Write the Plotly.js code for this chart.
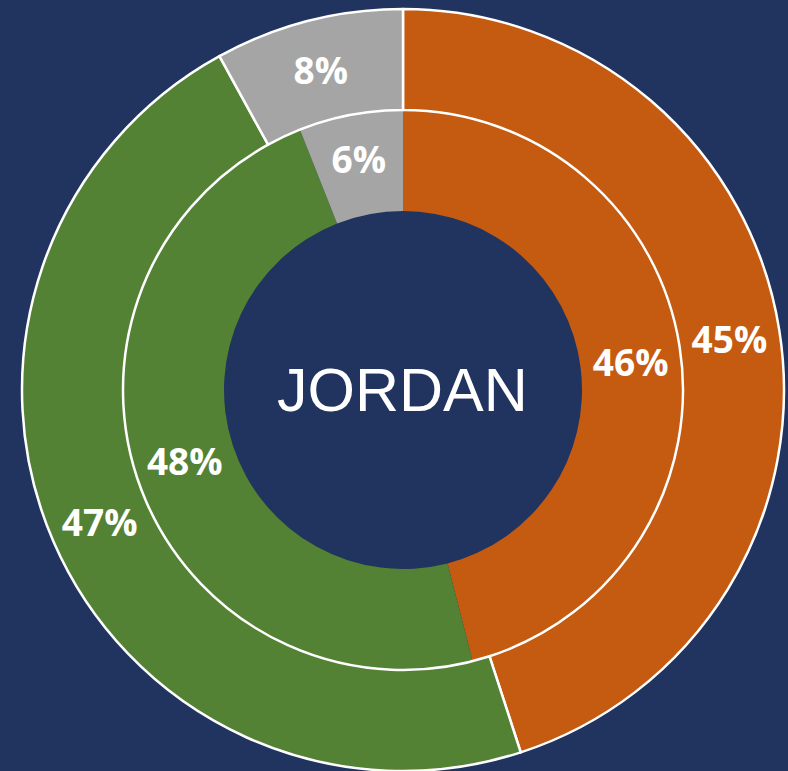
<!DOCTYPE html>
<html>
<head>
<meta charset="utf-8">
<script src="https://cdn.plot.ly/plotly-3.0.1.min.js"></script>
<style>
html,body{margin:0;padding:0;background:#21345F;}
#chart{width:788px;height:771px;}
</style>
</head>
<body>
<div id="chart"></div>
<script>
const categories = ["Orange", "Green", "Gray"];
const outerValues = [45, 47, 8];
const innerValues = [46, 48, 6];
const centerLabel = "JORDAN";
const colors = ["#C55A11", "#548235", "#A5A5A5"];

const W = 788, H = 771;
const cx = 403, cy = 390;
const rOuter = 381, rMid = 280, rHole = 179;

function dom(r) {
  return {
    x: [(cx - r) / W, (cx + r) / W],
    y: [Math.max(0, (H - cy - r) / H), Math.min(1, (H - cy + r) / H)]
  };
}

const textFont = {family: "Open Sans", size: 37, color: "#FFFFFF", weight: 700};

const outer = {
  type: "pie",
  labels: categories,
  values: outerValues,
  sort: false,
  direction: "clockwise",
  rotation: 0,
  hole: rMid / rOuter,
  domain: dom(rOuter),
  marker: {colors: colors, line: {color: "#FFFFFF", width: 2.5}},
  texttemplate: "%{value}%",
  textposition: "inside",
  insidetextorientation: "horizontal",
  insidetextfont: textFont,
  hoverinfo: "none",
  showlegend: false
};

const inner = {
  type: "pie",
  labels: categories,
  values: innerValues,
  sort: false,
  direction: "clockwise",
  rotation: 0,
  hole: rHole / rMid,
  domain: dom(rMid),
  marker: {colors: colors, line: {color: "#FFFFFF", width: 0}},
  texttemplate: "%{value}%",
  textposition: "inside",
  insidetextorientation: "horizontal",
  insidetextfont: textFont,
  hoverinfo: "none",
  showlegend: false
};

const layout = {
  width: W,
  height: H,
  margin: {l: 0, r: 0, t: 0, b: 0},
  paper_bgcolor: "#21345F",
  plot_bgcolor: "#21345F",
  showlegend: false,
  annotations: [{
    text: centerLabel,
    x: cx / W, y: (H - cy) / H,
    xref: "paper", yref: "paper",
    xanchor: "center", yanchor: "middle",
    showarrow: false,
    font: {family: "Liberation Sans", size: 61, color: "#FFFFFF"}
  }]
};

Plotly.newPlot("chart", [inner, outer], layout, {staticPlot: true, displayModeBar: false});
</script>
</body>
</html>
